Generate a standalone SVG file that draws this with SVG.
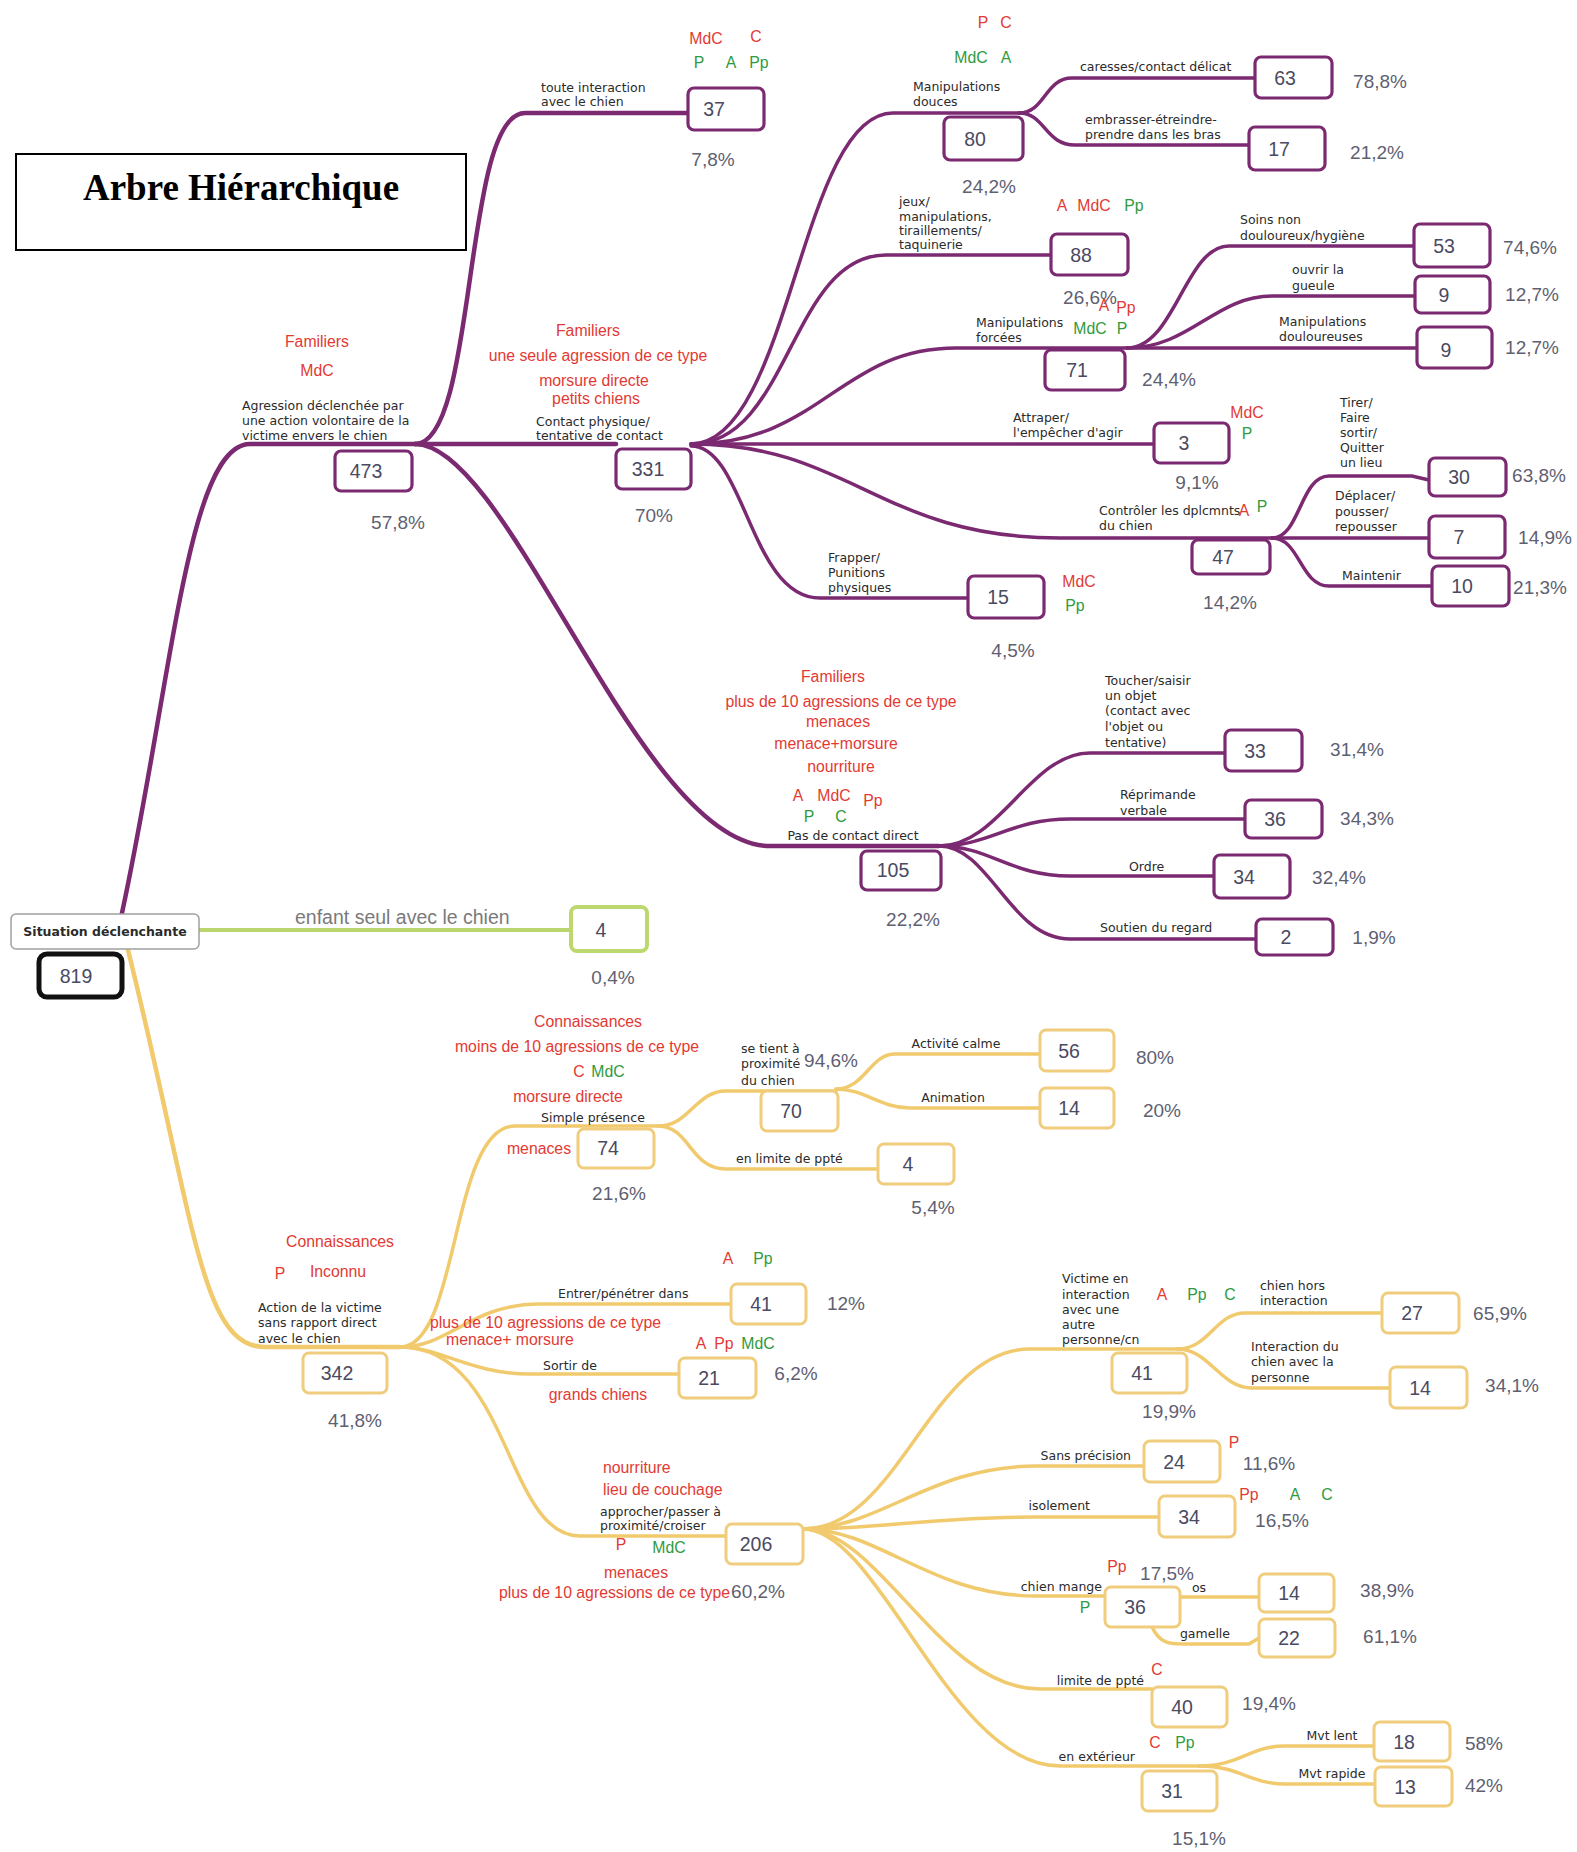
<svg xmlns="http://www.w3.org/2000/svg" width="1577" height="1852" viewBox="0 0 1577 1852">
<style>
.bg{fill:#fff}
.pb{fill:#fff;stroke:#7b2a72;stroke-width:3.2}
.yb{fill:#fff;stroke:#f0cd7c;stroke-width:3}
.pl{fill:none;stroke:#7b2a72;stroke-width:3.5;stroke-linecap:round}
.plm{fill:none;stroke:#7b2a72;stroke-width:4.5;stroke-linecap:round}
.yl{fill:none;stroke:#f1ca6e;stroke-width:3.5;stroke-linecap:round}
.ylm{fill:none;stroke:#f1ca6e;stroke-width:4.5;stroke-linecap:round}
.num{font-family:"Liberation Sans",Arial,sans-serif;font-size:19.5px;fill:#4a4a62;text-anchor:middle;dominant-baseline:central}
.pct{font-family:"Liberation Sans",Arial,sans-serif;font-size:19px;fill:#5f5f72;text-anchor:middle}
.lbl{font-family:"DejaVu Sans",Verdana,sans-serif;font-size:12.5px;fill:#2b2b2b}
.r{font-family:"Liberation Sans",Arial,sans-serif;font-size:15.8px;fill:#e23a33;text-anchor:middle}
.g{font-family:"Liberation Sans",Arial,sans-serif;font-size:15.8px;fill:#2f9a3e;text-anchor:middle}
.c{text-anchor:middle}
.e{text-anchor:end}
.s{text-anchor:start}
</style>
<rect class="bg" x="0" y="0" width="1577" height="1852"/>

<g id="title">
<rect x="16" y="154" width="450" height="96" fill="#fff" stroke="#000" stroke-width="2"/>
<text x="241" y="200" font-family="Liberation Serif,Times New Roman,serif" font-weight="bold" font-size="37" text-anchor="middle" fill="#000">Arbre Hiérarchique</text>
</g>

<g id="connectors">
<path class="plm" d="M122,913 C172,680 188,444 250,444 L415,444"/>
<path class="plm" d="M415,444 C478,444 462,113 525,113 L688,113"/>
<path class="plm" d="M415,444 L616,444"/>
<path class="plm" d="M415,444 C510,444 640,846 770,846 L939,846"/>
<path class="pl" d="M691,444 C790,444 800,113 893,113 L1019,113"/>
<path class="pl" d="M691,444 C790,444 790,255 886,255 L1051,255"/>
<path class="pl" d="M691,444 C820,444 840,348 956,348 L1127,348"/>
<path class="pl" d="M691,444 L1154,444"/>
<path class="pl" d="M691,444 C850,444 880,538 1060,538 L1272,538"/>
<path class="pl" d="M691,446 C745,446 750,598 820,598 L968,598"/>
<path class="pl" d="M1019,113 C1045,113 1045,78 1072,78 L1255,78"/>
<path class="pl" d="M1019,113 C1045,113 1045,145 1075,145 L1249,145"/>
<path class="pl" d="M1127,348 C1175,348 1185,246 1229,246 L1414,246"/>
<path class="pl" d="M1127,348 C1190,348 1215,296 1272,296 L1415,296"/>
<path class="pl" d="M1127,348 L1417,348"/>
<path class="pl" d="M1272,538 C1300,538 1300,476 1329,476 L1412,476 L1429,480"/>
<path class="pl" d="M1272,538 L1429,538"/>
<path class="pl" d="M1272,538 C1300,538 1300,586 1329,586 L1432,586"/>
<path class="pl" d="M939,846 C1000,846 1030,753 1090,753 L1225,753"/>
<path class="pl" d="M939,846 C990,846 1010,819 1070,819 L1245,819"/>
<path class="pl" d="M939,846 C990,846 1010,876 1070,876 L1214,876"/>
<path class="pl" d="M939,846 C990,846 1010,939 1070,939 L1256,939"/>
<path fill="none" stroke="#bad56d" stroke-width="4" d="M199,930 L571,930"/>
<path class="ylm" d="M128,950 C195,1220 200,1347 265,1347 L400,1347"/>
<path class="yl" d="M400,1347 C460,1347 450,1126 515,1126 L658,1126"/>
<path class="yl" d="M400,1347 C450,1347 470,1304 540,1304 L731,1304"/>
<path class="yl" d="M400,1347 C440,1347 470,1374 530,1374 L679,1374"/>
<path class="yl" d="M400,1347 C510,1347 505,1536 580,1536 L726,1536"/>
<path class="yl" d="M658,1126 C690,1126 695,1091 726,1091 L836,1091"/>
<path class="yl" d="M658,1126 C690,1126 690,1169 726,1169 L878,1169"/>
<path class="yl" d="M836,1089 C865,1089 870,1054 895,1054 L1040,1054"/>
<path class="yl" d="M836,1089 C865,1089 880,1108 910,1108 L1040,1108"/>
<path class="yl" d="M803,1529 C900,1529 930,1349 1030,1349 L1177,1349"/>
<path class="yl" d="M803,1529 C880,1529 930,1466 1036,1466 L1144,1466"/>
<path class="yl" d="M803,1529 C880,1529 930,1517 1036,1517 L1159,1517"/>
<path class="yl" d="M803,1529 C880,1529 930,1596 1036,1596 L1105,1596"/>
<path class="yl" d="M803,1529 C880,1529 940,1689 1040,1689 L1152,1689"/>
<path class="yl" d="M803,1529 C880,1529 950,1766 1060,1766 L1199,1766"/>
<path class="yl" d="M1177,1349 C1210,1349 1215,1313 1245,1313 L1382,1313"/>
<path class="yl" d="M1177,1349 C1210,1349 1220,1388 1252,1388 L1390,1388"/>
<path class="yl" d="M1180,1597 L1259,1597"/>
<path class="yl" d="M1152,1627 C1160,1644 1170,1644 1185,1644 L1249,1644 L1259,1638"/>
<path class="yl" d="M1199,1766 C1240,1766 1250,1746 1285,1746 L1374,1746"/>
<path class="yl" d="M1199,1766 C1240,1766 1250,1784 1285,1784 L1375,1784"/>
</g>

<g id="root">
<rect x="11" y="914" width="188" height="35" rx="5" fill="#fff" stroke="#a0a0a0" stroke-width="1.5"/>
<text class="lbl c" x="105" y="936" font-size="12.5" font-weight="bold" fill="#333">Situation déclenchante</text>
<rect x="39" y="954" width="83" height="43" rx="8" fill="#fff" stroke="#111" stroke-width="5"/>
<text class="num" x="76" y="976">819</text>
</g>

<g id="green4">
<rect x="571" y="907" width="76" height="44" rx="6" fill="#fff" stroke="#bcd86f" stroke-width="4"/>
<text class="num" x="601" y="930">4</text>
<text x="295" y="924" font-family="Liberation Sans,Arial,sans-serif" font-size="19.5" fill="#7a7a7a">enfant seul avec le chien</text>
<text class="pct" x="613" y="984">0,4%</text>
</g>

<g id="n473">
<rect class="pb" x="335" y="451" width="77" height="40" rx="6"/>
<text class="num" x="366" y="471">473</text>
<text class="pct" x="398" y="529">57,8%</text>
<text class="lbl" x="242" y="410">Agression déclenchée par</text>
<text class="lbl" x="242" y="425">une action volontaire de la</text>
<text class="lbl" x="242" y="440">victime envers le chien</text>
<text class="r" x="317" y="347">Familiers</text>
<text class="r" x="317" y="376">MdC</text>
</g>

<g id="n37">
<rect class="pb" x="688" y="88" width="76" height="42" rx="6"/>
<text class="num" x="714" y="109">37</text>
<text class="pct" x="713" y="166">7,8%</text>
<text class="lbl" x="541" y="92">toute interaction</text>
<text class="lbl" x="541" y="106">avec le chien</text>
<text class="r" x="706" y="44">MdC</text>
<text class="r" x="756" y="42">C</text>
<text class="g" x="699" y="68">P</text>
<text class="g" x="731" y="68">A</text>
<text class="g" x="759" y="68">Pp</text>
</g>

<g id="n331">
<rect class="pb" x="616" y="449" width="75" height="40" rx="6"/>
<text class="num" x="648" y="469">331</text>
<text class="pct" x="654" y="522">70%</text>
<text class="lbl" x="536" y="426">Contact physique/</text>
<text class="lbl" x="536" y="440">tentative de contact</text>
<text class="r" x="588" y="336">Familiers</text>
<text class="r" x="598" y="361">une seule agression de ce type</text>
<text class="r" x="594" y="386">morsure directe</text>
<text class="r" x="596" y="404">petits chiens</text>
</g>

<g id="n80">
<rect class="pb" x="944" y="117" width="79" height="43" rx="6"/>
<text class="num" x="975" y="139">80</text>
<text class="pct" x="989" y="193">24,2%</text>
<text class="lbl" x="913" y="91">Manipulations</text>
<text class="lbl" x="913" y="106">douces</text>
<text class="r" x="983" y="28">P</text>
<text class="r" x="1006" y="28">C</text>
<text class="g" x="971" y="63">MdC</text>
<text class="g" x="1006" y="63">A</text>
</g>

<g id="n63">
<rect class="pb" x="1255" y="57" width="77" height="41" rx="6"/>
<text class="num" x="1285" y="78">63</text>
<text class="pct" x="1380" y="88">78,8%</text>
<text class="lbl" x="1080" y="71">caresses/contact délicat</text>
</g>

<g id="n17">
<rect class="pb" x="1249" y="127" width="76" height="43" rx="6"/>
<text class="num" x="1279" y="149">17</text>
<text class="pct" x="1377" y="159">21,2%</text>
<text class="lbl" x="1085" y="124">embrasser-étreindre-</text>
<text class="lbl" x="1085" y="139">prendre dans les bras</text>
</g>

<g id="n88">
<rect class="pb" x="1051" y="234" width="77" height="41" rx="6"/>
<text class="num" x="1081" y="255">88</text>
<text class="pct" x="1090" y="304">26,6%</text>
<text class="lbl" x="899" y="206">jeux/</text>
<text class="lbl" x="899" y="221">manipulations,</text>
<text class="lbl" x="899" y="235">tiraillements/</text>
<text class="lbl" x="899" y="249">taquinerie</text>
<text class="r" x="1062" y="211">A</text>
<text class="r" x="1094" y="211">MdC</text>
<text class="g" x="1134" y="211">Pp</text>
</g>

<g id="n71">
<rect class="pb" x="1045" y="350" width="80" height="40" rx="6"/>
<text class="num" x="1077" y="370">71</text>
<text class="pct" x="1169" y="386">24,4%</text>
<text class="lbl" x="976" y="327">Manipulations</text>
<text class="lbl" x="976" y="342">forcées</text>
<text class="r" x="1104" y="311">A</text>
<text class="r" x="1126" y="313">Pp</text>
<text class="g" x="1090" y="334">MdC</text>
<text class="g" x="1122" y="334">P</text>
</g>

<g id="n53">
<rect class="pb" x="1414" y="224" width="76" height="43" rx="6"/>
<text class="num" x="1444" y="246">53</text>
<text class="pct" x="1530" y="254">74,6%</text>
<text class="lbl" x="1240" y="224">Soins non</text>
<text class="lbl" x="1240" y="240">douloureux/hygiène</text>
</g>

<g id="n9a">
<rect class="pb" x="1415" y="276" width="75" height="37" rx="6"/>
<text class="num" x="1444" y="295">9</text>
<text class="pct" x="1532" y="301">12,7%</text>
<text class="lbl" x="1292" y="274">ouvrir la</text>
<text class="lbl" x="1292" y="290">gueule</text>
</g>

<g id="n9b">
<rect class="pb" x="1417" y="327" width="75" height="41" rx="6"/>
<text class="num" x="1446" y="350">9</text>
<text class="pct" x="1532" y="354">12,7%</text>
<text class="lbl" x="1279" y="326">Manipulations</text>
<text class="lbl" x="1279" y="341">douloureuses</text>
</g>

<g id="n3">
<rect class="pb" x="1154" y="423" width="75" height="40" rx="6"/>
<text class="num" x="1184" y="443">3</text>
<text class="pct" x="1197" y="489">9,1%</text>
<text class="lbl" x="1013" y="422">Attraper/</text>
<text class="lbl" x="1013" y="437">l'empêcher d'agir</text>
<text class="r" x="1247" y="418">MdC</text>
<text class="g" x="1247" y="439">P</text>
</g>

<g id="n47">
<rect class="pb" x="1192" y="540" width="78" height="34" rx="6"/>
<text class="num" x="1223" y="557">47</text>
<text class="pct" x="1230" y="609">14,2%</text>
<text class="lbl" x="1099" y="515">Contrôler les dplcmnts</text>
<text class="lbl" x="1099" y="530">du chien</text>
<text class="r" x="1244" y="516">A</text>
<text class="g" x="1262" y="512">P</text>
</g>

<g id="n30">
<rect class="pb" x="1429" y="458" width="77" height="38" rx="6"/>
<text class="num" x="1459" y="477">30</text>
<text class="pct" x="1539" y="482">63,8%</text>
<text class="lbl" x="1340" y="407">Tirer/</text>
<text class="lbl" x="1340" y="422">Faire</text>
<text class="lbl" x="1340" y="437">sortir/</text>
<text class="lbl" x="1340" y="452">Quitter</text>
<text class="lbl" x="1340" y="467">un lieu</text>
</g>

<g id="n7">
<rect class="pb" x="1429" y="516" width="76" height="42" rx="6"/>
<text class="num" x="1459" y="537">7</text>
<text class="pct" x="1545" y="544">14,9%</text>
<text class="lbl" x="1335" y="500">Déplacer/</text>
<text class="lbl" x="1335" y="516">pousser/</text>
<text class="lbl" x="1335" y="531">repousser</text>
</g>

<g id="n10">
<rect class="pb" x="1432" y="566" width="77" height="40" rx="6"/>
<text class="num" x="1462" y="586">10</text>
<text class="pct" x="1540" y="594">21,3%</text>
<text class="lbl" x="1342" y="580">Maintenir</text>
</g>

<g id="n15">
<rect class="pb" x="968" y="576" width="76" height="42" rx="6"/>
<text class="num" x="998" y="597">15</text>
<text class="pct" x="1013" y="657">4,5%</text>
<text class="lbl" x="828" y="562">Frapper/</text>
<text class="lbl" x="828" y="577">Punitions</text>
<text class="lbl" x="828" y="592">physiques</text>
<text class="r" x="1079" y="587">MdC</text>
<text class="g" x="1075" y="611">Pp</text>
</g>

<g id="n105">
<rect class="pb" x="861" y="851" width="80" height="39" rx="6"/>
<text class="num" x="893" y="870">105</text>
<text class="pct" x="913" y="926">22,2%</text>
<text class="lbl c" x="853" y="840">Pas de contact direct</text>
<text class="r" x="833" y="682">Familiers</text>
<text class="r" x="841" y="707">plus de 10 agressions de ce type</text>
<text class="r" x="838" y="727">menaces</text>
<text class="r" x="836" y="749">menace+morsure</text>
<text class="r" x="841" y="772">nourriture</text>
<text class="r" x="798" y="801">A</text>
<text class="r" x="834" y="801">MdC</text>
<text class="r" x="873" y="806">Pp</text>
<text class="g" x="809" y="822">P</text>
<text class="g" x="841" y="822">C</text>
</g>

<g id="n33">
<rect class="pb" x="1225" y="730" width="77" height="41" rx="6"/>
<text class="num" x="1255" y="751">33</text>
<text class="pct" x="1357" y="756">31,4%</text>
<text class="lbl" x="1105" y="685">Toucher/saisir</text>
<text class="lbl" x="1105" y="700">un objet</text>
<text class="lbl" x="1105" y="715">(contact avec</text>
<text class="lbl" x="1105" y="731">l'objet ou</text>
<text class="lbl" x="1105" y="747">tentative)</text>
</g>

<g id="n36">
<rect class="pb" x="1245" y="800" width="77" height="38" rx="6"/>
<text class="num" x="1275" y="819">36</text>
<text class="pct" x="1367" y="825">34,3%</text>
<text class="lbl" x="1120" y="799">Réprimande</text>
<text class="lbl" x="1120" y="815">verbale</text>
</g>

<g id="n34">
<rect class="pb" x="1214" y="855" width="76" height="43" rx="6"/>
<text class="num" x="1244" y="877">34</text>
<text class="pct" x="1339" y="884">32,4%</text>
<text class="lbl" x="1129" y="871">Ordre</text>
</g>

<g id="n2">
<rect class="pb" x="1256" y="919" width="77" height="36" rx="6"/>
<text class="num" x="1286" y="937">2</text>
<text class="pct" x="1374" y="944">1,9%</text>
<text class="lbl" x="1100" y="932">Soutien du regard</text>
</g>

<g id="n342">
<rect class="yb" x="303" y="1353" width="84" height="40" rx="6"/>
<text class="num" x="337" y="1373">342</text>
<text class="pct" x="355" y="1427">41,8%</text>
<text class="lbl" x="258" y="1312">Action de la victime</text>
<text class="lbl" x="258" y="1327">sans rapport direct</text>
<text class="lbl" x="258" y="1343">avec le chien</text>
<text class="r" x="340" y="1247">Connaissances</text>
<text class="r" x="280" y="1279">P</text>
<text class="r" x="338" y="1277">Inconnu</text>
</g>

<g id="n74">
<rect class="yb" x="578" y="1129" width="76" height="39" rx="6"/>
<text class="num" x="608" y="1148">74</text>
<text class="pct" x="619" y="1200">21,6%</text>
<text class="lbl" x="541" y="1122">Simple présence</text>
<text class="r" x="588" y="1027">Connaissances</text>
<text class="r" x="577" y="1052">moins de 10 agressions de ce type</text>
<text class="r" x="579" y="1077">C</text>
<text class="g" x="608" y="1077">MdC</text>
<text class="r" x="568" y="1102">morsure directe</text>
<text class="r" x="539" y="1154">menaces</text>
</g>

<g id="n70">
<rect class="yb" x="761" y="1091" width="77" height="40" rx="6"/>
<text class="num" x="791" y="1111">70</text>
<text class="pct" x="831" y="1067">94,6%</text>
<text class="lbl" x="741" y="1053">se tient à</text>
<text class="lbl" x="741" y="1068">proximité</text>
<text class="lbl" x="741" y="1085">du chien</text>
</g>

<g id="n56">
<rect class="yb" x="1040" y="1030" width="74" height="41" rx="6"/>
<text class="num" x="1069" y="1051">56</text>
<text class="pct" x="1155" y="1064">80%</text>
<text class="lbl c" x="956" y="1048">Activité calme</text>
</g>

<g id="n14a">
<rect class="yb" x="1040" y="1088" width="74" height="40" rx="6"/>
<text class="num" x="1069" y="1108">14</text>
<text class="pct" x="1162" y="1117">20%</text>
<text class="lbl c" x="953" y="1102">Animation</text>
</g>

<g id="n4y">
<rect class="yb" x="878" y="1144" width="76" height="40" rx="6"/>
<text class="num" x="908" y="1164">4</text>
<text class="pct" x="933" y="1214">5,4%</text>
<text class="lbl" x="736" y="1163">en limite de ppté</text>
</g>

<g id="n41a">
<rect class="yb" x="731" y="1284" width="75" height="40" rx="6"/>
<text class="num" x="761" y="1304">41</text>
<text class="pct" x="846" y="1310">12%</text>
<text class="lbl" x="558" y="1298">Entrer/pénétrer dans</text>
<text class="r" x="728" y="1264">A</text>
<text class="g" x="763" y="1264">Pp</text>
<text class="r s" x="430" y="1328">plus de 10 agressions de ce type</text>
<text class="r s" x="446" y="1345">menace+ morsure</text>
</g>

<g id="n21">
<rect class="yb" x="679" y="1358" width="77" height="40" rx="6"/>
<text class="num" x="709" y="1378">21</text>
<text class="pct" x="796" y="1380">6,2%</text>
<text class="lbl" x="543" y="1370">Sortir de</text>
<text class="r" x="701" y="1349">A</text>
<text class="r" x="724" y="1349">Pp</text>
<text class="g" x="758" y="1349">MdC</text>
<text class="r" x="598" y="1400">grands chiens</text>
</g>

<g id="n206">
<rect class="yb" x="726" y="1524" width="77" height="40" rx="6"/>
<text class="num" x="756" y="1544">206</text>
<text class="pct" x="758" y="1598">60,2%</text>
<text class="lbl" x="600" y="1516">approcher/passer à</text>
<text class="lbl" x="600" y="1530">proximité/croiser</text>
<text class="r s" x="603" y="1473">nourriture</text>
<text class="r s" x="603" y="1495">lieu de couchage</text>
<text class="r" x="621" y="1550">P</text>
<text class="g" x="669" y="1553">MdC</text>
<text class="r" x="636" y="1578">menaces</text>
<text class="r e" x="730" y="1598">plus de 10 agressions de ce type</text>
</g>

<g id="n41b">
<rect class="yb" x="1112" y="1353" width="75" height="40" rx="6"/>
<text class="num" x="1142" y="1373">41</text>
<text class="pct" x="1169" y="1418">19,9%</text>
<text class="lbl" x="1062" y="1283">Victime en</text>
<text class="lbl" x="1062" y="1299">interaction</text>
<text class="lbl" x="1062" y="1314">avec une</text>
<text class="lbl" x="1062" y="1329">autre</text>
<text class="lbl" x="1062" y="1344">personne/cn</text>
<text class="r" x="1162" y="1300">A</text>
<text class="g" x="1197" y="1300">Pp</text>
<text class="g" x="1230" y="1300">C</text>
</g>

<g id="n27">
<rect class="yb" x="1382" y="1293" width="77" height="40" rx="6"/>
<text class="num" x="1412" y="1313">27</text>
<text class="pct" x="1500" y="1320">65,9%</text>
<text class="lbl" x="1260" y="1290">chien hors</text>
<text class="lbl" x="1260" y="1305">interaction</text>
</g>

<g id="n14b">
<rect class="yb" x="1390" y="1367" width="77" height="41" rx="6"/>
<text class="num" x="1420" y="1388">14</text>
<text class="pct" x="1512" y="1392">34,1%</text>
<text class="lbl" x="1251" y="1351">Interaction du</text>
<text class="lbl" x="1251" y="1366">chien avec la</text>
<text class="lbl" x="1251" y="1382">personne</text>
</g>

<g id="n24">
<rect class="yb" x="1144" y="1441" width="76" height="41" rx="6"/>
<text class="num" x="1174" y="1462">24</text>
<text class="pct" x="1269" y="1470">11,6%</text>
<text class="lbl e" x="1131" y="1460">Sans précision</text>
<text class="r" x="1234" y="1448">P</text>
</g>

<g id="n34y">
<rect class="yb" x="1159" y="1496" width="76" height="41" rx="6"/>
<text class="num" x="1189" y="1517">34</text>
<text class="pct" x="1282" y="1527">16,5%</text>
<text class="lbl e" x="1090" y="1510">isolement</text>
<text class="r" x="1249" y="1500">Pp</text>
<text class="g" x="1295" y="1500">A</text>
<text class="g" x="1327" y="1500">C</text>
</g>

<g id="n36y">
<rect class="yb" x="1105" y="1587" width="75" height="40" rx="6"/>
<text class="num" x="1135" y="1607">36</text>
<text class="pct" x="1167" y="1580">17,5%</text>
<text class="lbl e" x="1102" y="1591">chien mange</text>
<text class="r" x="1117" y="1572">Pp</text>
<text class="g" x="1085" y="1613">P</text>
</g>

<g id="n14c">
<rect class="yb" x="1259" y="1574" width="75" height="38" rx="6"/>
<text class="num" x="1289" y="1593">14</text>
<text class="pct" x="1387" y="1597">38,9%</text>
<text class="lbl c" x="1199" y="1592">os</text>
</g>

<g id="n22">
<rect class="yb" x="1259" y="1619" width="76" height="38" rx="6"/>
<text class="num" x="1289" y="1638">22</text>
<text class="pct" x="1390" y="1643">61,1%</text>
<text class="lbl c" x="1205" y="1638">gamelle</text>
</g>

<g id="n40">
<rect class="yb" x="1152" y="1687" width="75" height="40" rx="6"/>
<text class="num" x="1182" y="1707">40</text>
<text class="pct" x="1269" y="1710">19,4%</text>
<text class="lbl e" x="1144" y="1685">limite de ppté</text>
<text class="r" x="1157" y="1675">C</text>
</g>

<g id="n31">
<rect class="yb" x="1142" y="1771" width="75" height="40" rx="6"/>
<text class="num" x="1172" y="1791">31</text>
<text class="pct" x="1199" y="1845">15,1%</text>
<text class="lbl e" x="1135" y="1761">en extérieur</text>
<text class="r" x="1155" y="1748">C</text>
<text class="g" x="1185" y="1748">Pp</text>
</g>

<g id="n18">
<rect class="yb" x="1374" y="1722" width="76" height="39" rx="6"/>
<text class="num" x="1404" y="1742">18</text>
<text class="pct" x="1484" y="1750">58%</text>
<text class="lbl c" x="1332" y="1740">Mvt lent</text>
</g>

<g id="n13">
<rect class="yb" x="1375" y="1767" width="77" height="39" rx="6"/>
<text class="num" x="1405" y="1787">13</text>
<text class="pct" x="1484" y="1792">42%</text>
<text class="lbl c" x="1332" y="1778">Mvt rapide</text>
</g>
</svg>
